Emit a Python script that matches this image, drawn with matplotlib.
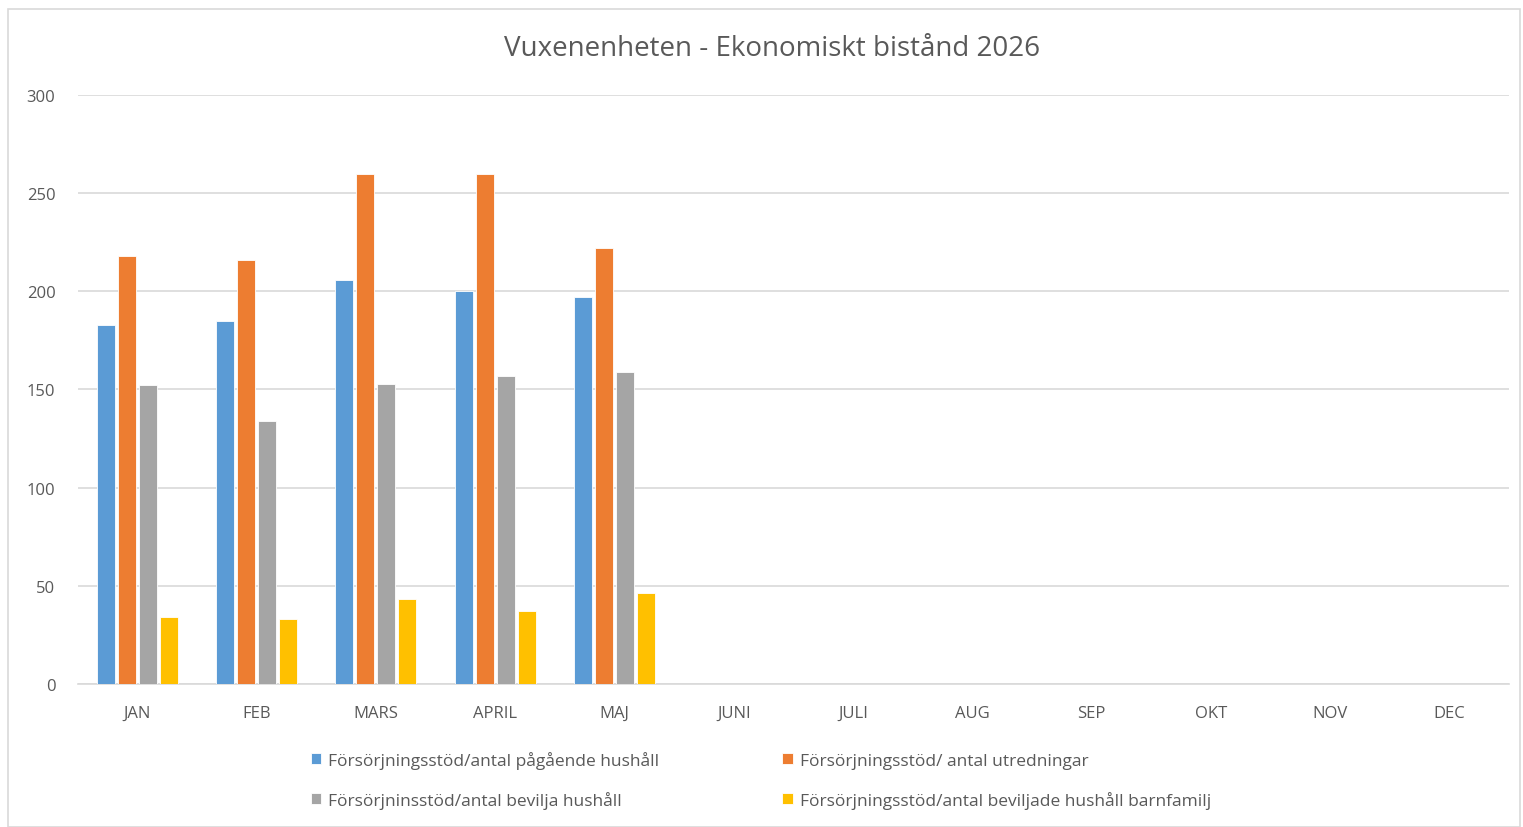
import numpy as np
import matplotlib.pyplot as plt
from matplotlib.patches import Rectangle

months = ["JAN", "FEB", "MARS", "APRIL", "MAJ", "JUNI", "JULI", "AUG", "SEP", "OKT", "NOV", "DEC"]

# values, months without data left empty
pagaende = [183, 185, 206, 200, 197]
utredningar = [218, 216, 260, 260, 222]
beviljade = [152, 134, 153, 157, 159]
barnfamilj = [34, 33, 43, 37, 46]

series_names = [
    "Försörjningsstöd/antal pågående hushåll",
    "Försörjningsstöd/ antal utredningar",
    "Försörjninsstöd/antal bevilja hushåll",
    "Försörjningsstöd/antal beviljade hushåll barnfamilj",
]
colors = ["#5b9bd5", "#ed7d31", "#a5a5a5", "#ffc000"]

plt.rcParams['font.family'] = ['Open Sans', 'DejaVu Sans']

fig = plt.figure(figsize=(15.23, 8.28), dpi=100)
ax = fig.add_axes([0.051, 0.173, 0.94, 0.711])

# chart border
fig.patches.append(Rectangle((0.005, 0.0), 0.993, 0.988, transform=fig.transFigure,
                             fill=False, edgecolor="#d9d9d9", linewidth=1.2))

x = np.arange(len(months))
width = 0.15
step = 0.176
data = [pagaende, utredningar, beviljade, barnfamilj]
bars = []
for i, (vals, c) in enumerate(zip(data, colors)):
    xs = x[:len(vals)] + (i - 1.5) * step
    b = ax.bar(xs, vals, width, color=c, edgecolor="white", linewidth=0.6, zorder=3)
    bars.append(b)

ax.set_xlim(-0.5, len(months) - 0.5)
ax.set_ylim(0, 300)
ax.set_yticks(np.arange(0, 301, 50))
ax.set_xticks(x)
ax.set_xticklabels(months)
ax.tick_params(length=0, colors="#595959", labelsize=12)
ax.tick_params(axis='x', pad=15)
ax.tick_params(axis='y', pad=16)
ax.grid(axis='y', color="#d9d9d9", linewidth=1.2, zorder=0)
for s in ["top", "right", "left"]:
    ax.spines[s].set_visible(False)
ax.spines["bottom"].set_color("#d9d9d9")
ax.spines["bottom"].set_linewidth(1.2)

fig.text(0.507, 0.941, "Vuxenenheten - Ekonomiskt bistånd 2026", ha="center", va="center",
         fontsize=20, color="#595959")

order = [0, 2, 1, 3]
leg = fig.legend([bars[i] for i in order], [series_names[i] for i in order],
                 loc="center", bbox_to_anchor=(0.4995, 0.057), ncol=2, frameon=False,
                 fontsize=12.5, labelcolor="#595959", handlelength=0.6, handleheight=0.6,
                 handletextpad=0.4, columnspacing=7.1, labelspacing=1.3)

fig.savefig("out.png", dpi=100)
